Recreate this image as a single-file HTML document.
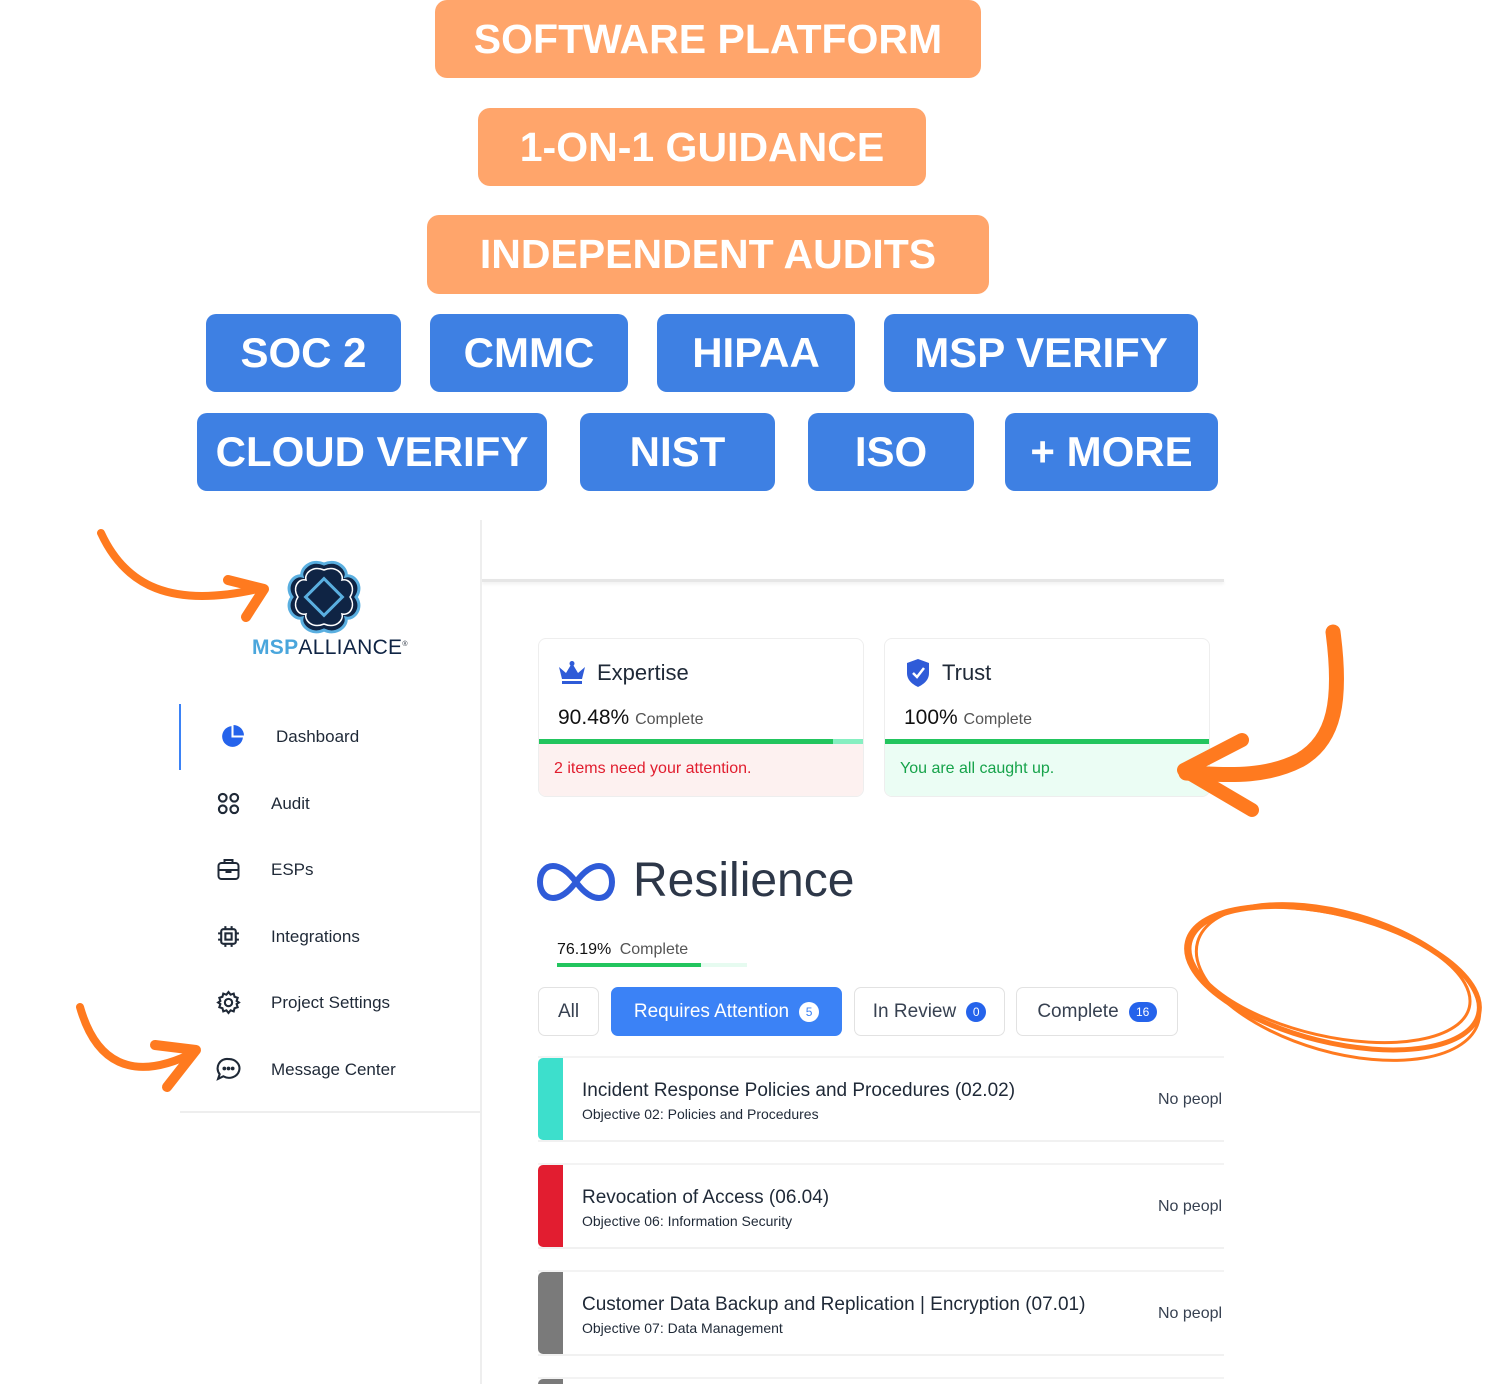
<!DOCTYPE html>
<html><head><meta charset="utf-8"><style>
*{margin:0;padding:0;box-sizing:border-box}
html,body{width:1487px;height:1384px;overflow:hidden}
body{background:#fff;position:relative;font-family:"Liberation Sans",sans-serif;color:#1f2937}
.a{position:absolute}
.ob,.bb{position:absolute;color:#fff;font-weight:bold;display:flex;align-items:center;justify-content:center;border-radius:12px;height:78px;font-size:41px;white-space:nowrap}
.ob{background:#FFA56B}
.bb{background:#3E80E3;font-size:42px;border-radius:10px}
.nav{position:absolute;font-size:17px;color:#1f2937}
.card{position:absolute;border:1px solid #eee;border-radius:8px;overflow:hidden;background:#fff;top:638px;height:159px;width:326px}
.tab{position:absolute;top:987px;height:49px;border:1px solid #e2e2e2;border-radius:7px;font-size:19px;display:flex;align-items:center;justify-content:center;gap:10px;color:#374151}
.badge{display:inline-flex;width:20px;height:20px;border-radius:10px;background:#2563eb;color:#fff;font-size:12px;align-items:center;justify-content:center}
.row{position:absolute;left:538px;width:686px;height:86px;border-top:2px solid #f3f3f3;border-bottom:2px solid #f1f1f1}
.row .s{position:absolute;left:0;top:0;width:25px;height:100%;border-radius:5px 0 0 5px}
.row .t{position:absolute;left:44px;top:22px;font-size:19px;color:#1f2937}
.row .u{position:absolute;left:44px;top:48px;font-size:14px;color:#1f2937}
.row .n{position:absolute;left:620px;top:33px;font-size:16px;color:#374151;white-space:nowrap;overflow:hidden;width:66px}
</style></head><body>
<div class="ob" style="left:435px;top:0;width:546px">SOFTWARE PLATFORM</div>
<div class="ob" style="left:478px;top:108px;width:448px">1-ON-1 GUIDANCE</div>
<div class="ob" style="left:427px;top:215px;width:562px;height:79px">INDEPENDENT AUDITS</div>
<div class="bb" style="left:206px;top:314px;width:195px">SOC 2</div>
<div class="bb" style="left:430px;top:314px;width:198px">CMMC</div>
<div class="bb" style="left:657px;top:314px;width:198px">HIPAA</div>
<div class="bb" style="left:884px;top:314px;width:314px">MSP VERIFY</div>
<div class="bb" style="left:197px;top:413px;width:350px">CLOUD VERIFY</div>
<div class="bb" style="left:580px;top:413px;width:195px">NIST</div>
<div class="bb" style="left:808px;top:413px;width:166px">ISO</div>
<div class="bb" style="left:1005px;top:413px;width:213px">+ MORE</div>

<div class="a" style="left:480px;top:520px;width:2px;height:864px;background:#eee"></div>
<div class="a" style="left:482px;top:579px;width:742px;height:3px;background:#e6e6e6;box-shadow:0 2px 3px #eee"></div>
<div class="a" style="left:180px;top:1111px;width:300px;height:2px;background:#eee"></div>
<div class="a" style="left:179px;top:704px;width:2px;height:66px;background:#3b82f6"></div>

<svg class="a" style="left:286px;top:560px" width="76" height="74" viewBox="0 0 76 74">
<path d="M38 4 C52 -2 62 10 60 16 C68 14 78 26 70 37 C78 48 68 60 60 58 C62 66 50 76 38 70 C26 76 14 66 16 58 C8 60 -2 48 6 37 C-2 26 8 14 16 16 C14 10 24 -2 38 4Z" fill="#0f2444" stroke="#5aafe0" stroke-width="3"/>
<path d="M38 10 C50 5 58 14 56 20 C64 18 70 28 64 37 C70 46 64 56 56 54 C58 60 50 69 38 64 C26 69 18 60 20 54 C12 56 6 46 12 37 C6 28 12 18 20 20 C18 14 26 5 38 10Z" fill="none" stroke="#fff" stroke-width="1.5"/>
<rect x="25" y="24" width="26" height="26" transform="rotate(45 38 37)" fill="#0f2444" stroke="#5aafe0" stroke-width="3"/>
</svg>
<div class="a" style="left:252px;top:636px;font-size:21px;letter-spacing:0.3px"><b style="color:#4aa6dc">MSP</b><span style="color:#0f2444">ALLIANCE</span><sup style="font-size:7px">®</sup></div>

<svg class="a" style="left:220px;top:724px" width="25" height="25" viewBox="0 0 24 24"><path d="M11 2 A10 10 0 1 0 22 13 L11 13Z" fill="#2563eb"/><path d="M13 1 A10 10 0 0 1 23 11 L13 11Z" fill="#2563eb"/></svg>
<div class="nav" style="left:276px;top:727px">Dashboard</div>
<svg class="a" style="left:217px;top:792px" width="23" height="23" viewBox="0 0 24 24" fill="none" stroke="#1f2937" stroke-width="2.2"><circle cx="6" cy="6" r="4"/><circle cx="18" cy="6" r="4"/><circle cx="6" cy="18" r="4"/><circle cx="18" cy="18" r="4"/></svg>
<div class="nav" style="left:271px;top:794px">Audit</div>
<svg class="a" style="left:216px;top:857px" width="25" height="24" viewBox="0 0 24 24" fill="none" stroke="#1f2937" stroke-width="2"><rect x="2" y="6" width="20" height="16" rx="3"/><path d="M8 6V3h8v3M2 13h20M10 13v2h4v-2"/></svg>
<div class="nav" style="left:271px;top:860px">ESPs</div>
<svg class="a" style="left:216px;top:924px" width="25" height="25" viewBox="0 0 24 24" fill="none" stroke="#1f2937" stroke-width="2"><rect x="5" y="5" width="14" height="14" rx="2"/><rect x="9" y="9" width="6" height="6"/><path d="M9 2v3M15 2v3M9 19v3M15 19v3M2 9h3M2 15h3M19 9h3M19 15h3"/></svg>
<div class="nav" style="left:271px;top:927px">Integrations</div>
<svg class="a" style="left:216px;top:990px" width="25" height="25" viewBox="0 0 24 24" fill="none" stroke="#1f2937" stroke-width="2"><circle cx="12" cy="12" r="3.5"/><path d="M12 2l2 2.5 3-1 .8 3 3 1-1 3L22 12l-2.2 1.5 1 3-3 1-.8 3-3-1L12 22l-2-2.5-3 1-.8-3-3-1 1-3L2 12l2.2-1.5-1-3 3-1 .8-3 3 1z"/></svg>
<div class="nav" style="left:271px;top:993px">Project Settings</div>
<svg class="a" style="left:216px;top:1057px" width="25" height="25" viewBox="0 0 24 24" fill="none" stroke="#1f2937" stroke-width="2"><path d="M12 2a10 9 0 1 1-5 16.5L2 21l1.5-4.5A9 9 0 0 1 12 2z"/><circle cx="8" cy="11" r=".8" fill="#1f2937"/><circle cx="12" cy="11" r=".8" fill="#1f2937"/><circle cx="16" cy="11" r=".8" fill="#1f2937"/></svg>
<div class="nav" style="left:271px;top:1060px">Message Center</div>

<div class="card" style="left:538px">
 <svg class="a" style="left:18px;top:22px" width="30" height="24" viewBox="0 0 30 24"><path d="M2 6l7 6 6-10 6 10 7-6-3 12H5z" fill="#2f5bd8"/><rect x="5" y="20" width="20" height="3" fill="#2f5bd8"/><circle cx="15" cy="2.5" r="2.5" fill="#2f5bd8"/></svg>
 <div class="a" style="left:58px;top:21px;font-size:22px">Expertise</div>
 <div class="a" style="left:19px;top:67px;font-size:21px;color:#111">90.48% <span style="font-size:16px;color:#555">Complete</span></div>
 <div class="a" style="left:0;top:100px;width:326px;height:5px;background:#86efc1"></div>
 <div class="a" style="left:0;top:100px;width:294px;height:5px;background:#22c55e"></div>
 <div class="a" style="left:0;top:105px;width:326px;height:54px;background:#fdf1f0"></div>
 <div class="a" style="left:15px;top:121px;font-size:16px;color:#e11d2e">2 items need your attention.</div>
</div>
<div class="card" style="left:884px">
 <svg class="a" style="left:20px;top:19px" width="26" height="30" viewBox="0 0 26 30"><path d="M13 1L24 5v10c0 7-5 11-11 14C7 26 2 22 2 15V5z" fill="#2f5bd8"/><path d="M8 15l4 4 7-9" stroke="#fff" stroke-width="2.5" fill="none"/></svg>
 <div class="a" style="left:57px;top:21px;font-size:22px">Trust</div>
 <div class="a" style="left:19px;top:67px;font-size:21px;color:#111">100% <span style="font-size:16px;color:#555">Complete</span></div>
 <div class="a" style="left:0;top:100px;width:326px;height:5px;background:#22c55e"></div>
 <div class="a" style="left:0;top:105px;width:326px;height:54px;background:#ebfdf4"></div>
 <div class="a" style="left:15px;top:121px;font-size:16px;color:#16a34a">You are all caught up.</div>
</div>

<svg class="a" style="left:537px;top:862px" width="78" height="40" viewBox="0 0 78 40"><path d="M39 20 C30 8 22 4 16 4 C8 4 3 11 3 20 C3 29 8 36 16 36 C22 36 30 32 39 20 C48 8 56 4 62 4 C70 4 75 11 75 20 C75 29 70 36 62 36 C56 36 48 32 39 20Z" fill="none" stroke="#2f5bd8" stroke-width="6"/></svg>
<div class="a" style="left:633px;top:853px;font-size:48px;color:#2d3748">Resilience</div>
<div class="a" style="left:557px;top:941px;font-size:16px;color:#111">76.19% <span style="color:#555;margin-left:4px">Complete</span></div>
<div class="a" style="left:557px;top:963px;width:190px;height:4px;background:#e6fbf0"></div>
<div class="a" style="left:557px;top:963px;width:144px;height:4px;background:#22c55e"></div>

<div class="tab" style="left:538px;width:61px">All</div>
<div class="tab" style="left:611px;width:231px;background:#3b82f6;border-color:#3b82f6;color:#fff">Requires Attention <span class="badge" style="background:#fff;color:#3b82f6">5</span></div>
<div class="tab" style="left:854px;width:151px">In Review <span class="badge">0</span></div>
<div class="tab" style="left:1016px;width:162px">Complete <span class="badge" style="width:28px">16</span></div>

<div class="row" style="top:1056px"><div class="s" style="background:#3ddfcc"></div><div class="t">Incident Response Policies and Procedures (02.02)</div><div class="u">Objective 02: Policies and Procedures</div><div class="n">No peopl</div></div>
<div class="row" style="top:1163px"><div class="s" style="background:#e21d30"></div><div class="t">Revocation of Access (06.04)</div><div class="u">Objective 06: Information Security</div><div class="n">No peopl</div></div>
<div class="row" style="top:1270px"><div class="s" style="background:#7a7a7a"></div><div class="t">Customer Data Backup and Replication | Encryption (07.01)</div><div class="u">Objective 07: Data Management</div><div class="n">No peopl</div></div>
<div class="a" style="left:538px;top:1377px;width:686px;height:7px;border-top:2px solid #f3f3f3"><div class="a" style="left:0;top:0;width:25px;height:7px;background:#7a7a7a;border-radius:5px 0 0 0"></div></div>

<svg class="a" style="left:0;top:0" width="1487" height="1384" fill="none" stroke="#FF7A1F" stroke-linecap="round" stroke-linejoin="round">
<path d="M101 533 C125 585 170 610 262 588" stroke-width="8"/>
<path d="M228 580 L264 589 L246 617" stroke-width="10"/>
<path d="M80 1007 C95 1060 130 1085 195 1052" stroke-width="8"/>
<path d="M155 1045 L196 1050 L167 1087" stroke-width="10"/>
<path d="M1333 632 C1342 700 1335 740 1300 760 C1265 778 1230 775 1186 773" stroke-width="15"/>
<path d="M1242 740 L1184 770 L1252 810" stroke-width="14"/>
<ellipse cx="1333" cy="978" rx="150" ry="64" transform="rotate(14 1333 978)" stroke-width="5"/>
<ellipse cx="1338" cy="982" rx="146" ry="70" transform="rotate(16 1338 982)" stroke-width="3"/>
<ellipse cx="1330" cy="975" rx="143" ry="61" transform="rotate(13 1330 975)" stroke-width="3"/>
</svg>
</body></html>
